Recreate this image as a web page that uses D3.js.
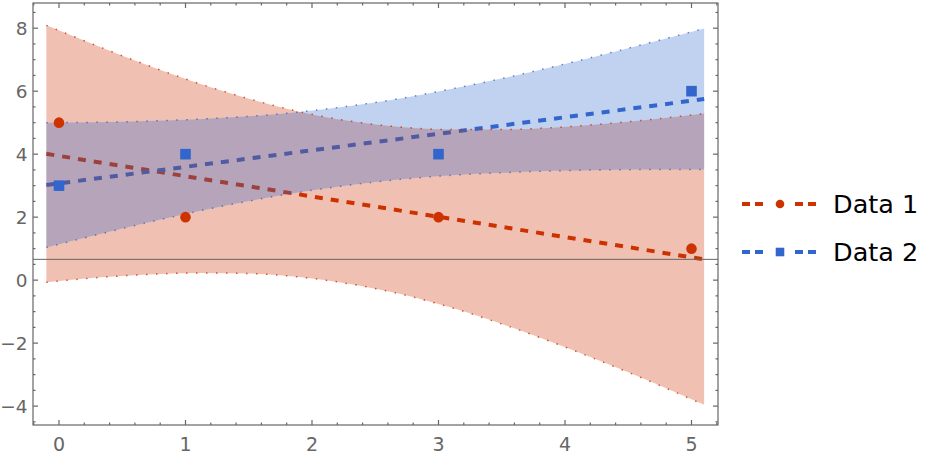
<!DOCTYPE html>
<html>
<head>
<meta charset="utf-8">
<script src="https://cdn.jsdelivr.net/npm/d3@7"></script>
<style>
  body { margin: 0; background: #fff; }
  text { font-family: "DejaVu Sans", sans-serif; }
</style>
</head>
<body>
<div id="chart"></div>
<script>
// data points
var pointX = [0, 1, 3, 5];
var data1 = [5, 2, 2, 1];
var data2 = [3, 4, 4, 6];

// fitted lines (ends)
var fitX = [-0.1, 5.1];
var fit1 = [4.01, 0.66];
var fit2 = [3.02, 5.75];

// confidence bands
var bandX = [-0.1, 0.3, 0.7, 1.1, 1.5, 1.9, 2.3, 2.7, 3.1, 3.5, 3.9, 4.3, 4.7, 5.1];
var band1Upper = [8.09, 7.44, 6.82, 6.25, 5.76, 5.35, 5.05, 4.86, 4.78, 4.78, 4.84, 4.96, 5.11, 5.29];
var band1Lower = [-0.07, 0.08, 0.18, 0.23, 0.21, 0.10, -0.12, -0.44, -0.87, -1.39, -1.97, -2.60, -3.26, -3.96];
var band2Upper = [5.00, 5.01, 5.05, 5.11, 5.20, 5.34, 5.53, 5.77, 6.07, 6.40, 6.77, 7.16, 7.57, 7.99];
var band2Lower = [1.04, 1.44, 1.83, 2.19, 2.51, 2.79, 3.02, 3.20, 3.33, 3.41, 3.47, 3.50, 3.51, 3.51];

var xTicks = [0, 1, 2, 3, 4, 5];
var yTicks = [-4, -2, 0, 2, 4, 6, 8];
var axisOriginY = 0.66;
var seriesNames = ["Data 1", "Data 2"];

var red = "#cc3300", blue = "#3366cc", grey = "#666";

var width = 930, height = 458;
var margin = { top: 3, left: 33, right: 212, bottom: 33 };

var svg = d3.select("#chart").append("svg")
    .attr("width", width)
    .attr("height", height);

var x = d3.scaleLinear().domain([-0.2055, 5.2095]).range([margin.left, width - margin.right]);
var y = d3.scaleLinear().domain([-4.6, 8.8]).range([height - margin.bottom, margin.top]);

var plot = svg.append("g");

// fit lines go under the bands
var fitLine = d3.line()
    .x(function(d) { return x(d[0]); })
    .y(function(d) { return y(d[1]); });

[[fit1, red], [fit2, blue]].forEach(function(s) {
  plot.append("path")
      .datum(d3.zip(fitX, s[0]))
      .attr("d", fitLine)
      .style("fill", "none")
      .style("stroke", s[1])
      .style("stroke-width", 4)
      .style("stroke-dasharray", "8,8");
});

// bands
var bands = [
  { up: band1Upper, lo: band1Lower, col: red },
  { up: band2Upper, lo: band2Lower, col: blue }
];
var area = d3.area()
    .x(function(d) { return x(d.x); })
    .y0(function(d) { return y(d.lo); })
    .y1(function(d) { return y(d.up); })
    .curve(d3.curveMonotoneX);
var edge = d3.line()
    .x(function(d) { return x(d[0]); })
    .y(function(d) { return y(d[1]); })
    .curve(d3.curveMonotoneX);

bands.forEach(function(b) {
  var rows = bandX.map(function(v, i) { return { x: v, up: b.up[i], lo: b.lo[i] }; });
  plot.append("path")
      .datum(rows)
      .attr("d", area)
      .style("fill", b.col)
      .style("fill-opacity", 0.3);
});
bands.forEach(function(b) {
  [b.up, b.lo].forEach(function(arr) {
    plot.append("path")
        .datum(d3.zip(bandX, arr))
        .attr("d", edge)
        .style("fill", "none")
        .style("stroke", b.col)
        .style("stroke-opacity", 0.8)
        .style("stroke-width", 1.5)
        .style("stroke-dasharray", "1.5,8.5");
  });
});

// horizontal axis line
plot.append("line")
    .attr("x1", margin.left).attr("x2", width - margin.right)
    .attr("y1", y(axisOriginY)).attr("y2", y(axisOriginY))
    .style("stroke", grey).style("stroke-width", 1);

// points
plot.selectAll(".p1").data(d3.zip(pointX, data1)).enter().append("circle")
    .attr("cx", function(d) { return x(d[0]); })
    .attr("cy", function(d) { return y(d[1]); })
    .attr("r", 5.3)
    .style("fill", red);
plot.selectAll(".p2").data(d3.zip(pointX, data2)).enter().append("rect")
    .attr("x", function(d) { return x(d[0]) - 5.3; })
    .attr("y", function(d) { return y(d[1]) - 5.3; })
    .attr("width", 10.6).attr("height", 10.6)
    .style("fill", blue);

// frame with ticks on every side
var x0 = margin.left, x1 = width - margin.right, y0 = margin.top, y1 = height - margin.bottom;
var frame = svg.append("g").style("stroke", grey).style("stroke-width", 1.2);
frame.append("rect").attr("x", x0).attr("y", y0).attr("width", x1 - x0).attr("height", y1 - y0).style("fill", "none");

var xMinor = d3.range(-0.2, 5.21, 0.2).filter(function(v) { return Math.abs(v - Math.round(v)) > 1e-6; });
var yMinor = d3.range(-4.5, 8.51, 0.5).filter(function(v) { return Math.abs(v - Math.round(v / 2) * 2) > 1e-6; });

xTicks.forEach(function(v) {
  frame.append("line").attr("x1", x(v)).attr("x2", x(v)).attr("y1", y1).attr("y2", y1 - 5);
  frame.append("line").attr("x1", x(v)).attr("x2", x(v)).attr("y1", y0).attr("y2", y0 + 5);
});
xMinor.forEach(function(v) {
  frame.append("line").attr("x1", x(v)).attr("x2", x(v)).attr("y1", y1).attr("y2", y1 - 2.5);
  frame.append("line").attr("x1", x(v)).attr("x2", x(v)).attr("y1", y0).attr("y2", y0 + 2.5);
});
yTicks.forEach(function(v) {
  frame.append("line").attr("x1", x0).attr("x2", x0 + 5).attr("y1", y(v)).attr("y2", y(v));
  frame.append("line").attr("x1", x1).attr("x2", x1 - 5).attr("y1", y(v)).attr("y2", y(v));
});
yMinor.forEach(function(v) {
  frame.append("line").attr("x1", x0).attr("x2", x0 + 2.5).attr("y1", y(v)).attr("y2", y(v));
  frame.append("line").attr("x1", x1).attr("x2", x1 - 2.5).attr("y1", y(v)).attr("y2", y(v));
});

// tick labels
var fmt = d3.format("d");
svg.selectAll(".xl").data(xTicks).enter().append("text")
    .attr("x", function(d) { return x(d); })
    .attr("y", y1 + 26)
    .attr("text-anchor", "middle")
    .style("font-size", "19px").style("fill", grey)
    .text(fmt);
svg.selectAll(".yl").data(yTicks).enter().append("text")
    .attr("x", x0 - 5.5)
    .attr("y", function(d) { return y(d) + 6.8; })
    .attr("text-anchor", "end")
    .style("font-size", "18.5px").style("fill", grey)
    .text(fmt);

// Handmade legend
var legend = svg.append("g");
[[red, 204], [blue, 252]].forEach(function(s, i) {
  legend.append("line").attr("x1", 742).attr("x2", 764).attr("y1", s[1]).attr("y2", s[1])
      .style("stroke", s[0]).style("stroke-width", 4).style("stroke-dasharray", "8,5");
  legend.append("line").attr("x1", 795).attr("x2", 817).attr("y1", s[1]).attr("y2", s[1])
      .style("stroke", s[0]).style("stroke-width", 4).style("stroke-dasharray", "8,5");
  if (i == 0) {
    legend.append("circle").attr("cx", 780).attr("cy", s[1]).attr("r", 4.3).style("fill", s[0]);
  } else {
    legend.append("rect").attr("x", 775.7).attr("y", s[1] - 4.3).attr("width", 8.6).attr("height", 8.6).style("fill", s[0]);
  }
  legend.append("text").attr("x", 833).attr("y", s[1] + 9)
      .style("font-size", "25.5px").style("fill", "#000")
      .text(seriesNames[i]);
});
</script>
</body>
</html>
